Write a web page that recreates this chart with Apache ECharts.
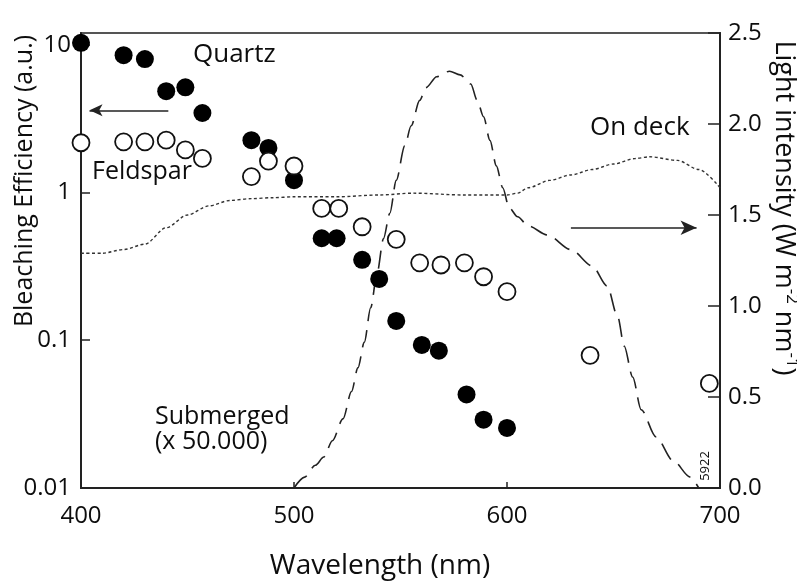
<!DOCTYPE html>
<html>
<head>
<meta charset="utf-8">
<script src="https://cdn.jsdelivr.net/npm/echarts@6/dist/echarts.min.js"></script>
<style>
  html, body { margin: 0; padding: 0; background: #fff; }
  #chart { width: 797px; height: 581px; }
</style>
</head>
<body>
<div id="chart"></div>
<script>
// Bleaching efficiency of quartz and feldspar versus wavelength,
// with on-deck and submerged daylight spectra on the right axis.

// Quartz (filled circles), bleaching efficiency in a.u.
const quartzWavelength = [400, 420, 430, 440, 449, 457, 480, 488, 500, 513, 520, 532, 540, 548, 560, 568, 581, 589, 600];
const quartzEfficiency = [10.3, 8.5, 8.0, 4.85, 5.15, 3.45, 2.26, 2.0, 1.21, 0.49, 0.49, 0.35, 0.26, 0.135, 0.093, 0.085, 0.043, 0.029, 0.0255];

// Feldspar (open circles), bleaching efficiency in a.u.
const feldsparWavelength = [400, 420, 430, 440, 449, 457, 480, 488, 500, 513, 521, 532, 548, 559, 569, 580, 589, 600, 639, 695];
const feldsparEfficiency = [2.17, 2.2, 2.2, 2.26, 1.94, 1.70, 1.28, 1.63, 1.51, 0.78, 0.78, 0.586, 0.482, 0.334, 0.323, 0.334, 0.269, 0.213, 0.079, 0.051];

// On-deck light intensity (W m-2 nm-1), dotted curve
const onDeckWavelength = [400, 410, 420, 430, 440, 450, 460, 470, 480, 490, 500, 520, 540, 556, 580, 600, 605, 610, 620, 630, 640, 650, 660, 667, 680, 690, 700];
const onDeckIntensity  = [1.29, 1.29, 1.31, 1.34, 1.43, 1.50, 1.55, 1.58, 1.59, 1.595, 1.60, 1.60, 1.61, 1.62, 1.61, 1.61, 1.62, 1.65, 1.69, 1.72, 1.75, 1.78, 1.81, 1.82, 1.80, 1.75, 1.65];

// Submerged light intensity (x 50.000), dashed curve
const submergedWavelength = [500, 505, 510, 514, 518, 523, 527, 530, 533, 536, 539, 542, 545, 548, 552, 555, 559, 562, 567, 573, 578, 583, 586, 589, 592, 595, 598, 601, 605, 610, 619, 630, 640, 647, 652, 655, 659, 663, 670, 678, 686, 690];
const submergedIntensity  = [0, 0.06, 0.125, 0.17, 0.26, 0.38, 0.53, 0.66, 0.80, 0.99, 1.18, 1.37, 1.51, 1.69, 1.88, 1.99, 2.13, 2.20, 2.26, 2.29, 2.27, 2.22, 2.13, 2.04, 1.91, 1.77, 1.65, 1.54, 1.49, 1.44, 1.39, 1.31, 1.22, 1.11, 0.94, 0.78, 0.61, 0.43, 0.28, 0.15, 0.06, 0.0];

// Axis tick labels
const wavelengthTicks = ['400', '500', '600', '700'];
const efficiencyTicks = [0.01, 0.1, 1, 10];
const efficiencyTickLabels = ['0.01', '0.1', '1', '10'];
const intensityTickLabels = ['0.0', '0.5', '1.0', '1.5', '2.0', '2.5'];

// Arrows linking each data set to its axis (arrowhead centred on the end point)
const quartzArrow = { from: [441, 3.6], to: [404, 3.6] };
const deckArrow = { from: [630, 1.43], to: [689, 1.43] };

const FONT = "'Open Sans', sans-serif";
const INK = '#0d0d0d';

const pair = (xs, ys) => xs.map((x, i) => [x, ys[i]]);

const chart = echarts.init(document.getElementById('chart'), null, { renderer: 'canvas' });

const axisLineStyle = { show: true, lineStyle: { color: '#222', width: 2 } };

chart.setOption({
  animation: false,
  backgroundColor: '#fff',
  grid: {
    left: 81, right: 77, top: 33, bottom: 93,
    show: true, borderColor: '#555', borderWidth: 2, backgroundColor: 'transparent'
  },
  xAxis: {
    type: 'value', min: 400, max: 700, interval: 100,
    axisLine: axisLineStyle,
    axisTick: { inside: true, length: 6, lineStyle: { color: '#222', width: 1.5 } },
    axisLabel: {
      fontFamily: FONT, fontSize: 24, color: INK, margin: 16,
      formatter: v => wavelengthTicks[Math.round((v - 400) / 100)] ?? ''
    },
    splitLine: { show: false }
  },
  yAxis: [
    {
      type: 'log', logBase: 10, min: 0.01, max: 12, position: 'left',
      axisLine: axisLineStyle,
      axisTick: { inside: true, length: 9, lineStyle: { color: '#222', width: 1.5 } },
      axisLabel: {
        fontFamily: FONT, fontSize: 24, color: INK, margin: 10, showMaxLabel: false,
        formatter: v => {
          const i = efficiencyTicks.findIndex(t => Math.abs(Math.log10(v) - Math.log10(t)) < 1e-6);
          return i >= 0 ? efficiencyTickLabels[i] : '';
        }
      },
      splitLine: { show: false }
    },
    {
      type: 'value', min: 0, max: 2.5, interval: 0.5, position: 'right',
      axisLine: axisLineStyle,
      axisTick: { inside: true, length: 12, lineStyle: { color: '#222', width: 1.5 } },
      axisLabel: {
        fontFamily: FONT, fontSize: 24, color: INK, margin: 8,
        formatter: v => intensityTickLabels[Math.round(v / 0.5)] ?? ''
      },
      splitLine: { show: false }
    }
  ],
  series: [
    {
      name: 'On deck', type: 'line', yAxisIndex: 1,
      data: pair(onDeckWavelength, onDeckIntensity),
      showSymbol: false, symbol: 'none', smooth: 0.3, smoothMonotone: 'x',
      lineStyle: { color: '#333', width: 1.4, type: [3, 2.5] },
      markLine: {
        silent: true, symbol: ['none', 'arrow'], symbolSize: [11, 16],
        label: { show: false },
        lineStyle: { color: '#222', width: 1.5, type: 'solid' },
        data: [[{ coord: deckArrow.from }, { coord: deckArrow.to }]]
      },
      z: 2
    },
    {
      name: 'Submerged', type: 'line', yAxisIndex: 1,
      data: pair(submergedWavelength, submergedIntensity),
      showSymbol: false, symbol: 'none', smooth: 0.3, smoothMonotone: 'x',
      lineStyle: { color: '#222', width: 1.6, type: [18, 9] },
      z: 2
    },
    {
      name: 'Quartz', type: 'scatter', yAxisIndex: 0,
      data: pair(quartzWavelength, quartzEfficiency),
      symbol: 'circle', symbolSize: 18,
      itemStyle: { color: '#000', opacity: 1 },
      markLine: {
        silent: true, symbol: ['none', 'arrow'], symbolSize: [9, 13],
        label: { show: false },
        lineStyle: { color: '#222', width: 1.5, type: 'solid' },
        data: [[{ coord: quartzArrow.from }, { coord: quartzArrow.to }]]
      },
      z: 3
    },
    {
      name: 'Feldspar', type: 'scatter', yAxisIndex: 0,
      data: pair(feldsparWavelength, feldsparEfficiency),
      symbol: 'circle', symbolSize: 17,
      itemStyle: { color: '#fff', borderColor: '#111', borderWidth: 1.8, opacity: 1 },
      z: 4
    }
  ],
  graphic: [
    // axis titles
    {
      type: 'text', x: 25, y: 181, rotation: Math.PI / 2, silent: true,
      style: { text: 'Bleaching Efficiency (a.u.)', font: `25px ${FONT}`, fill: INK, align: 'center', verticalAlign: 'middle' }
    },
    {
      type: 'text', x: 784, y: 208, rotation: -Math.PI / 2, silent: true,
      style: {
        text: '{a|Light intensity (W m}{s|-2}{a| nm}{s|-1}{a|)}',
        align: 'center', verticalAlign: 'middle',
        rich: {
          a: { fontFamily: FONT, fontSize: 27, fill: INK, lineHeight: 32 },
          s: { fontFamily: FONT, fontSize: 17, fill: INK, verticalAlign: 'top', lineHeight: 22 }
        }
      }
    },
    {
      type: 'text', x: 380, y: 566, silent: true,
      style: { text: 'Wavelength (nm)', font: `28px ${FONT}`, fill: INK, align: 'center', verticalAlign: 'middle' }
    },
    // series annotations
    {
      type: 'text', x: 193, y: 55, silent: true,
      style: { text: 'Quartz', font: `26px ${FONT}`, fill: INK, align: 'left', verticalAlign: 'middle' }
    },
    {
      type: 'text', x: 92, y: 172, silent: true,
      style: { text: 'Feldspar', font: `25px ${FONT}`, fill: INK, align: 'left', verticalAlign: 'middle' }
    },
    {
      type: 'text', x: 590, y: 128, silent: true,
      style: { text: 'On deck', font: `26px ${FONT}`, fill: INK, align: 'left', verticalAlign: 'middle' }
    },
    {
      type: 'text', x: 155, y: 417, silent: true,
      style: { text: 'Submerged', font: `25px ${FONT}`, fill: INK, align: 'left', verticalAlign: 'middle' }
    },
    {
      type: 'text', x: 155, y: 442, silent: true,
      style: { text: '(x 50.000)', font: `25px ${FONT}`, fill: INK, align: 'left', verticalAlign: 'middle' }
    },
    {
      type: 'text', x: 705, y: 466, rotation: Math.PI / 2, silent: true,
      style: { text: '5922', font: `13px ${FONT}`, fill: INK, align: 'center', verticalAlign: 'middle' }
    }
  ]
});
</script>
</body>
</html>
